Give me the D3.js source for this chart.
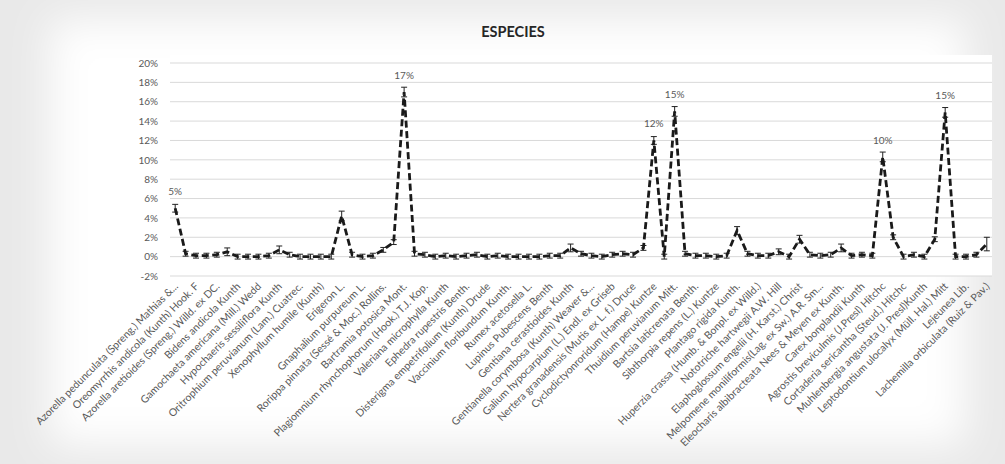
<!DOCTYPE html>
<html>
<head>
<meta charset="utf-8">
<script src="https://cdn.jsdelivr.net/npm/d3@7"></script>
<style>
    body { margin: 0; background: #e9e9e9; }
    svg { display: block; }
</style>
</head>
<body>
<svg id="chart" width="1005" height="464"></svg>
<script>
// Visible category labels (Excel shows every second category)
var speciesLabels = [
    "Azorella pedunculata (Spreng.) Mathias &...",
    "Oreomyrrhis andicola (Kunth) Hook. F",
    "Azorella aretioides (Spreng.) Willd. ex DC.",
    "Bidens andicola Kunth",
    "Gamochaeta americana (Mill.) Wedd",
    "Hypochaeris sessiliflora Kunth",
    "Oritrophium peruvianum (Lam.) Cuatrec.",
    "Xenophyllum humile (Kunth)",
    "Erigeron L.",
    "Gnaphalium purpureum L.",
    "Rorippa pinnata (Sessé & Moc.) Rollins.",
    "Bartramia potosica Mont.",
    "Plagiomnium rhynchophorum (Hook.) T.J. Kop.",
    "Valeriana microphylla Kunth",
    "Ephedra rupestris Benth.",
    "Disterigma empetrifolium (Kunth) Drude",
    "Vaccinium floribundum Kunth.",
    "Rumex acetosella L.",
    "Lupinus Pubescens Benth",
    "Gentiana cerastioides Kunth",
    "Gentianella corymbosa (Kunth) Weaver &...",
    "Galium hypocarpium (L.) Endl. ex Griseb",
    "Nertera granadensis (Mutis ex L. f.) Druce",
    "Cyclodictyonroridum (Hampe) Kuntze",
    "Thuidium peruvianum Mitt.",
    "Bartsia laticrenata Benth.",
    "Sibthorpia repens (L.) Kuntze",
    "Plantago rigida Kunth.",
    "Huperzia crassa (Humb. & Bonpl. ex Willd.)",
    "Nototriche hartwegii A.W. Hill",
    "Elaphoglossum engelii (H. Karst.) Christ",
    "Melpomene moniliformis(Lag. ex Sw.) A.R. Sm...",
    "Eleocharis albibracteata Nees & Meyen ex Kunth.",
    "Carex bonplandii Kunth",
    "Agrostis breviculmis (J.Presl) Hitchc",
    "Cortaderia  sericantha (Steud.) Hitchc",
    "Muhlenbergia angustata  (J. Presl)Kunth",
    "Leptodontium ulocalyx (Müll. Hal.) Mitt",
    "Lejeunea Lib.",
    "Lachemilla orbiculata (Ruiz & Pav.)"
];

// Percentage per species (79 points)
var values = [
    5.0, 0.3, 0.1, 0.1, 0.2, 0.5, 0.0, 0.0, 0.0, 0.1,
    0.7, 0.2, 0.0, 0.0, 0.0, 0.0, 4.2, 0.2, 0.0, 0.1,
    0.7, 1.5, 17.0, 0.3, 0.2, 0.0, 0.1, 0.0, 0.1, 0.2,
    0.0, 0.1, 0.0, 0.0, 0.0, 0.0, 0.1, 0.1, 0.9, 0.3,
    0.1, 0.0, 0.2, 0.3, 0.2, 0.9, 12.0, 0.0, 15.0, 0.3,
    0.1, 0.1, 0.0, 0.1, 2.7, 0.3, 0.1, 0.1, 0.5, 0.0,
    1.8, 0.2, 0.1, 0.2, 0.9, 0.1, 0.2, 0.1, 10.3, 2.0,
    0.0, 0.2, 0.0, 1.8, 14.9, 0.0, 0.0, 0.2, 1.3
];

// Error bar half-widths (percentage points)
var errors = [
    0.4, 0.25, 0.25, 0.25, 0.25, 0.4, 0.25, 0.25, 0.25, 0.25,
    0.4, 0.25, 0.25, 0.25, 0.25, 0.25, 0.5, 0.25, 0.25, 0.25,
    0.25, 0.25, 0.5, 0.25, 0.25, 0.25, 0.25, 0.25, 0.25, 0.25,
    0.25, 0.25, 0.25, 0.25, 0.25, 0.25, 0.25, 0.25, 0.4, 0.25,
    0.25, 0.25, 0.25, 0.25, 0.25, 0.25, 0.4, 0.25, 0.5, 0.25,
    0.25, 0.25, 0.25, 0.25, 0.4, 0.25, 0.25, 0.25, 0.3, 0.25,
    0.4, 0.25, 0.25, 0.25, 0.4, 0.25, 0.25, 0.25, 0.5, 0.25,
    0.25, 0.25, 0.25, 0.25, 0.5, 0.25, 0.25, 0.25, 0.7
];

// Points that carry a data label
var labeledPoints = [0, 22, 46, 48, 68, 74];

var yTicks = [-2, 0, 2, 4, 6, 8, 10, 12, 14, 16, 18, 20];

var svg = d3.select("#chart");

var plot = { left: 170, right: 992, top: 63, bottom: 276 };

// Soft white "paper" with blurred edges to mimic the photographed chart
var defs = svg.append("defs");
defs.append("filter")
    .attr("id", "soft")
    .attr("x", "-10%").attr("y", "-10%")
    .attr("width", "120%").attr("height", "120%")
    .append("feGaussianBlur")
    .attr("stdDeviation", 20);

svg.append("rect")
    .attr("x", 50).attr("y", 20)
    .attr("width", 915).attr("height", 425)
    .attr("fill", "#ffffff")
    .attr("filter", "url(#soft)");

svg.append("rect")
    .attr("x", plot.left).attr("y", plot.top - 8)
    .attr("width", plot.right - plot.left).attr("height", plot.bottom - plot.top + 8)
    .attr("fill", "#ffffff");

var indices = d3.range(values.length);

var xScale = d3.scalePoint()
    .domain(indices)
    .range([plot.left, plot.right])
    .padding(0.5);

var yScale = d3.scaleLinear()
    .domain([-2, 20])
    .range([plot.bottom, plot.top]);

// Horizontal gridlines
svg.append("g")
    .selectAll("line")
    .data(yTicks)
    .enter()
    .append("line")
        .attr("x1", plot.left)
        .attr("x2", plot.right)
        .attr("y1", function(d) { return yScale(d); })
        .attr("y2", function(d) { return yScale(d); })
        .attr("stroke", "#d9d9d9")
        .attr("stroke-width", 1);

// Y axis labels
var yAxis = svg.append("g")
    .attr("transform", `translate(${plot.left}, 0)`)
    .attr("color", "#595959")
    .call(d3.axisLeft(yScale)
        .tickValues(yTicks)
        .tickSize(0)
        .tickPadding(12)
        .tickFormat(function(d) { return d + "%"; }));
yAxis.select(".domain").remove();
yAxis.selectAll("text")
    .attr("font-family", "Lato, 'Liberation Sans', sans-serif")
    .attr("font-size", "10px");

// X axis labels, rotated
var xAxis = svg.append("g")
    .attr("transform", `translate(0, ${plot.bottom})`)
    .attr("color", "#595959")
    .call(d3.axisBottom(xScale)
        .tickValues(indices.filter(function(i) { return i % 2 === 0; }))
        .tickSize(0)
        .tickFormat(function(i) { return speciesLabels[i / 2]; }));
xAxis.select(".domain").remove();
xAxis.selectAll("text")
    .attr("font-family", "Lato, 'Liberation Sans', sans-serif")
    .attr("font-size", "10.5px")
    .attr("text-anchor", "end")
    .attr("dy", "0")
    .attr("y", 0)
    .attr("transform", "translate(3, 11) rotate(-45)");

// Error bars
var errG = svg.append("g")
    .attr("stroke", "#222")
    .attr("stroke-width", 1);

indices.forEach(function(i) {
    var x = xScale(i);
    var yTop = yScale(values[i] + errors[i]);
    var yBot = yScale(values[i] - errors[i]);
    errG.append("line")
        .attr("x1", x).attr("x2", x)
        .attr("y1", yTop).attr("y2", yBot);
    errG.append("line")
        .attr("x1", x - 3).attr("x2", x + 3)
        .attr("y1", yTop).attr("y2", yTop);
    errG.append("line")
        .attr("x1", x - 3).attr("x2", x + 3)
        .attr("y1", yBot).attr("y2", yBot);
});

// Dashed line
var line = d3.line()
    .x(function(i) { return xScale(i); })
    .y(function(i) { return yScale(values[i]); });

svg.append("path")
    .datum(indices)
    .attr("d", line)
    .attr("fill", "none")
    .attr("stroke", "#1a1a1a")
    .attr("stroke-width", 2.8)
    .attr("stroke-dasharray", "7,3.5");

// Data labels
svg.append("g")
    .selectAll("text")
    .data(labeledPoints)
    .enter()
    .append("text")
        .attr("x", function(i) { return xScale(i); })
        .attr("y", function(i) { return yScale(values[i]) - 13; })
        .attr("text-anchor", "middle")
        .attr("font-family", "Lato, 'Liberation Sans', sans-serif")
        .attr("font-size", "10px")
        .attr("fill", "#595959")
        .text(function(i) { return Math.round(values[i]) + "%"; });

// Title
svg.append("text")
    .attr("x", 513)
    .attr("y", 37)
    .attr("text-anchor", "middle")
    .attr("font-family", "Lato, 'Liberation Sans', sans-serif")
    .attr("font-size", "14.5px")
    .attr("font-weight", "bold")
    .attr("fill", "#262626")
    .text("ESPECIES");
</script>
</body>
</html>
